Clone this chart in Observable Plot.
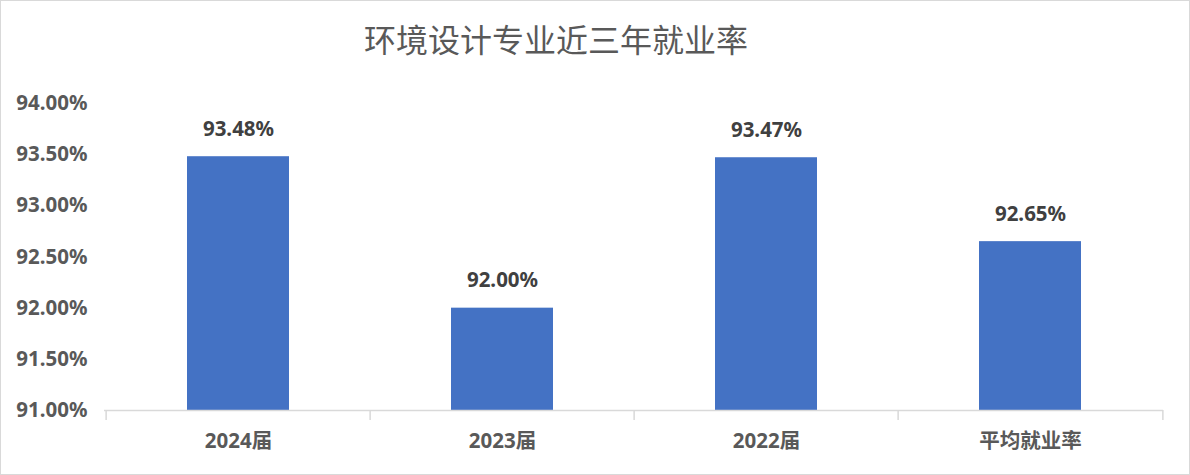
<!DOCTYPE html>
<html>
<head>
<meta charset="utf-8">
<script src="https://cdn.jsdelivr.net/npm/d3@7"></script>
<script src="https://cdn.jsdelivr.net/npm/@observablehq/plot@0.6"></script>
<style>
  body { margin: 0; background: #fff; }
  #wrap { position: relative; width: 1190px; height: 475px; background: #fff; overflow: hidden; }
  #border { position: absolute; left: 0; top: 0; right: 0; bottom: 0; border: 1.5px solid #d9d9d9; pointer-events: none; box-sizing: border-box; }
  #title { position: absolute; left: 0; top: 16px; width: 1112px; text-align: center;
           font-family: "Noto Sans CJK SC", sans-serif; font-size: 32px; font-weight: 400; color: #595959; line-height: 44px; }
  #chart { position: absolute; left: 0; top: 80px; }
</style>
</head>
<body>
<div id="wrap">
  <div id="title">环境设计专业近三年就业率</div>
  <div id="chart"></div>
  <div id="border"></div>
</div>
<script>
const categories = ["2024届", "2023届", "2022届", "平均就业率"];
const rates = [93.48, 92.00, 93.47, 92.65];
const yTicks = [91, 91.5, 92, 92.5, 93, 93.5, 94];

const data = categories.map((c, i) => ({category: c, rate: rates[i]}));

const width = 1190, height = 395;
const marginLeft = 104, marginRight = 27, marginTop = 23, marginBottom = 65;
const step = (width - marginLeft - marginRight) / categories.length;
const fontStack = '"Noto Sans", "Noto Sans CJK SC", sans-serif';

const chart = Plot.plot({
  width, height, marginLeft, marginRight, marginTop, marginBottom,
  style: {fontFamily: fontStack, color: "#595959", background: "transparent", overflow: "visible"},
  x: {domain: categories, paddingInner: 0.615, paddingOuter: 0.3075, label: null},
  y: {domain: [yTicks[0], yTicks[yTicks.length - 1]], label: null},
  marks: [
    Plot.barY(data, {x: "category", y1: yTicks[0], y2: "rate", fill: "#4472C4"}),
    Plot.ruleY([yTicks[0]], {stroke: "#d9d9d9", strokeWidth: 1.5}),
    Plot.ruleX(categories, {x: d => d, dx: -step / 2, y1: yTicks[0], y2: yTicks[0], insetBottom: -10, stroke: "#d9d9d9", strokeWidth: 1.5}),
    Plot.ruleX(categories.slice(-1), {x: d => d, dx: step / 2, y1: yTicks[0], y2: yTicks[0], insetBottom: -10, stroke: "#d9d9d9", strokeWidth: 1.5}),
    Plot.text(data, {x: "category", y: "rate", text: d => d.rate.toFixed(2) + "%", dy: -21, lineAnchor: "bottom",
      fontSize: 20.5, fontWeight: "bold", fill: "#404040"}),
    Plot.axisY({ticks: yTicks, tickFormat: d => d.toFixed(2) + "%", tickSize: 0, tickPadding: 17,
      fontSize: 20.5, fontWeight: "bold", fill: "#595959"}),
    Plot.axisX({tickSize: 0, tickPadding: 23, fontSize: 20.5, fontWeight: "bold", fill: "#595959"})
  ]
});
document.getElementById("chart").appendChild(chart);
</script>
</body>
</html>
